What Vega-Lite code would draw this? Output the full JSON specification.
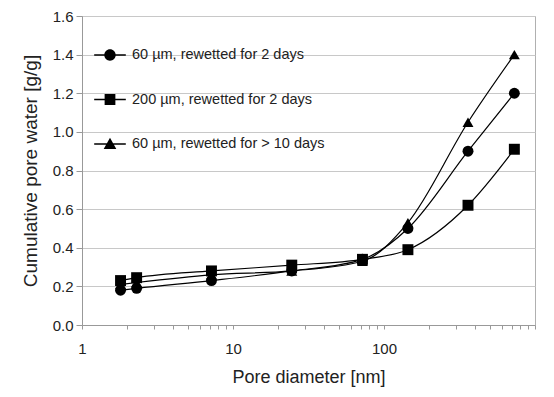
{
  "$schema": "https://vega.github.io/schema/vega-lite/v6.json",
  "width": 453,
  "height": 309,
  "autosize": {"type": "none"},
  "padding": {"left": 82, "top": 16, "right": 19, "bottom": 72},
  "background": "white",
  "config": {
    "font": "Liberation Sans",
    "view": {"stroke": "#b0b0b0", "strokeWidth": 1},
    "axis": {"labelFont": "Liberation Sans", "titleFont": "Liberation Sans", "labelColor": "#222", "titleColor": "#222", "domainColor": "#999", "tickColor": "#999", "titleFontWeight": "normal"}
  },
  "data": {
    "values": [
      {"d": 1.8, "w": 0.18, "series": "60 µm, rewetted for 2 days"},
      {"d": 2.3, "w": 0.19, "series": "60 µm, rewetted for 2 days"},
      {"d": 7.2, "w": 0.23, "series": "60 µm, rewetted for 2 days"},
      {"d": 24.5, "w": 0.28, "series": "60 µm, rewetted for 2 days"},
      {"d": 72, "w": 0.34, "series": "60 µm, rewetted for 2 days"},
      {"d": 144, "w": 0.50, "series": "60 µm, rewetted for 2 days"},
      {"d": 360, "w": 0.90, "series": "60 µm, rewetted for 2 days"},
      {"d": 730, "w": 1.20, "series": "60 µm, rewetted for 2 days"},
      {"d": 1.8, "w": 0.23, "series": "200 µm, rewetted for 2 days"},
      {"d": 2.3, "w": 0.245, "series": "200 µm, rewetted for 2 days"},
      {"d": 7.2, "w": 0.28, "series": "200 µm, rewetted for 2 days"},
      {"d": 24.5, "w": 0.31, "series": "200 µm, rewetted for 2 days"},
      {"d": 72, "w": 0.34, "series": "200 µm, rewetted for 2 days"},
      {"d": 144, "w": 0.39, "series": "200 µm, rewetted for 2 days"},
      {"d": 360, "w": 0.62, "series": "200 µm, rewetted for 2 days"},
      {"d": 730, "w": 0.91, "series": "200 µm, rewetted for 2 days"},
      {"d": 1.8, "w": 0.21, "series": "60 µm, rewetted for > 10 days"},
      {"d": 2.3, "w": 0.22, "series": "60 µm, rewetted for > 10 days"},
      {"d": 7.2, "w": 0.26, "series": "60 µm, rewetted for > 10 days"},
      {"d": 24.5, "w": 0.28, "series": "60 µm, rewetted for > 10 days"},
      {"d": 72, "w": 0.33, "series": "60 µm, rewetted for > 10 days"},
      {"d": 144, "w": 0.53, "series": "60 µm, rewetted for > 10 days"},
      {"d": 360, "w": 1.05, "series": "60 µm, rewetted for > 10 days"},
      {"d": 730, "w": 1.40, "series": "60 µm, rewetted for > 10 days"}
    ]
  },
  "encoding": {
    "x": {
      "field": "d", "type": "quantitative",
      "scale": {"type": "log", "domain": [1, 1000], "nice": false},
      "axis": {
        "title": "Pore diameter [nm]",
        "values": [1,2,3,4,5,6,7,8,9,10,20,30,40,50,60,70,80,90,100,200,300,400,500,600,700,800,900,1000],
        "labelExpr": "indexof(['1','10','100','1000'], datum.label) >= 0 ? datum.label : ''",
        "grid": false, "tickSize": 4, "labelFontSize": 15, "labelPadding": 12,
        "titleFontSize": 18, "titlePadding": 12, "labelFlush": false, "labelOverlap": false
      }
    },
    "y": {
      "field": "w", "type": "quantitative",
      "scale": {"domain": [0, 1.6], "nice": false},
      "axis": {
        "title": "Cumulative pore water [g/g]",
        "values": [0,0.2,0.4,0.6,0.8,1.0,1.2,1.4,1.6],
        "format": ".1f",
        "gridColor": "#c8c8c8", "tickSize": 6, "labelFontSize": 15, "labelPadding": 3,
        "titleFontSize": 19, "titlePadding": 12, "labelFlush": false
      }
    }
  },
  "layer": [
    {
      "mark": {"type": "line", "interpolate": "monotone", "color": "black", "strokeWidth": 1.2},
      "encoding": {"detail": {"field": "series"}}
    },
    {
      "mark": {"type": "point", "filled": true, "color": "black", "opacity": 1, "size": 120},
      "encoding": {
        "shape": {
          "field": "series", "type": "nominal",
          "scale": {"domain": ["60 µm, rewetted for 2 days", "200 µm, rewetted for 2 days", "60 µm, rewetted for > 10 days"], "range": ["circle", "square", "triangle-up"]},
          "legend": null
        }
      }
    },
    {
      "mark": {"type": "point", "filled": true, "color": "black", "opacity": 0, "size": 10},
      "encoding": {
        "shape": {
          "field": "series", "type": "nominal",
          "scale": {
            "domain": ["60 µm, rewetted for 2 days", "200 µm, rewetted for 2 days", "60 µm, rewetted for > 10 days"],
            "range": [
              "M-1,-0.045H1V0.045H-1ZM0.36,0A0.36,0.36,0,1,1,-0.36,0A0.36,0.36,0,1,1,0.36,0Z",
              "M-1,-0.045H1V0.045H-1ZM-0.34,-0.34H0.34V0.34H-0.34Z",
              "M-1,-0.045H1V0.045H-1ZM0,-0.4L0.4,0.32H-0.4Z"
            ]
          },
          "legend": {
            "title": null, "orient": "none", "legendX": 11, "legendY": 22,
            "symbolSize": 1000, "symbolOpacity": 1, "symbolFillColor": "black",
            "labelFontSize": 14.5, "labelColor": "#222", "labelOffset": 5, "rowPadding": 18.5, "labelLimit": 300
          }
        }
      }
    }
  ],
  "resolve": {"scale": {"shape": "independent"}, "legend": {"shape": "independent"}}
}
